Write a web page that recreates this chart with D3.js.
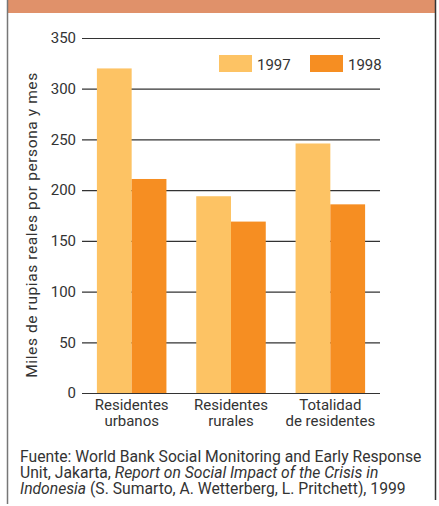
<!DOCTYPE html>
<html>
<head>
<meta charset="utf-8">
<script src="https://cdn.jsdelivr.net/npm/d3@7"></script>
<style>
  body { margin: 0; background: #fff; }
  text { font-family: Roboto, "DejaVu Sans", sans-serif; fill: #333; }
</style>
</head>
<body>
<script>
// data
var categories = [["Residentes", "urbanos"], ["Residentes", "rurales"], ["Totalidad", "de residentes"]];
var years = ["1997", "1998"];
var values1997 = [320, 194, 246];
var values1998 = [211, 169, 186];
var yTicks = [0, 50, 100, 150, 200, 250, 300, 350];

var width = 439, height = 506;
var colors = ["#fdc364", "#f68e22"];

var svg = d3.select("body").append("svg")
    .attr("width", width)
    .attr("height", height);

// frame + top band
svg.append("rect").attr("x", 7).attr("y", 0).attr("width", 429).attr("height", 13).attr("fill", "#e0916a");
svg.append("line").attr("x1", 7.5).attr("x2", 7.5).attr("y1", 0).attr("y2", 504).attr("stroke", "#777").attr("stroke-width", 1.5);
svg.append("line").attr("x1", 435.5).attr("x2", 435.5).attr("y1", 0).attr("y2", 500).attr("stroke", "#333").attr("stroke-width", 1.5);

var y = d3.scaleLinear().domain([0, 350]).range([393, 38]);
var x = d3.scaleBand().domain(d3.range(categories.length)).range([82, 380])
    .paddingInner(0.3).paddingOuter(0.15);
var xs = d3.scaleBand().domain(years).range([0, x.bandwidth()]);

// gridlines via axis
var yAxis = svg.append("g")
    .attr("transform", "translate(82,0)")
    .call(d3.axisLeft(y).tickValues(yTicks).tickSize(-298).tickSizeOuter(0).tickPadding(6));
yAxis.select(".domain").remove();
yAxis.selectAll(".tick line").attr("stroke", "#333").attr("stroke-width", 1.2);
yAxis.selectAll(".tick text").attr("font-size", 15).attr("fill", "#333").attr("font-family", "Roboto");

// bars
var series = [values1997, values1998];
years.forEach(function(yr, k) {
    svg.append("g").selectAll("rect")
        .data(series[k])
        .enter().append("rect")
        .attr("x", function(d, i) { return x(i) + xs(yr); })
        .attr("y", function(d) { return y(d); })
        .attr("width", xs.bandwidth())
        .attr("height", function(d) { return y(0) - y(d); })
        .attr("fill", colors[k]);
});

// category labels
var cat = svg.append("g").selectAll("text")
    .data(categories)
    .enter().append("text")
    .attr("text-anchor", "middle")
    .attr("font-size", 15)
    .attr("transform", function(d, i) { return "translate(" + (x(i) + x.bandwidth() / 2) + ",0)"; });
cat.append("tspan").attr("x", 0).attr("y", 410).text(function(d) { return d[0]; });
cat.append("tspan").attr("x", 0).attr("y", 426).text(function(d) { return d[1]; });

// y axis title
svg.append("text")
    .attr("transform", "translate(37,225) rotate(-90)")
    .attr("text-anchor", "middle")
    .attr("font-size", 15.5)
    .attr("letter-spacing", 0.6)
    .text("Miles de rupias reales por persona y mes");

// legend
var legX = [219, 310];
years.forEach(function(yr, k) {
    svg.append("rect").attr("x", legX[k]).attr("y", 55).attr("width", 33).attr("height", 17).attr("fill", colors[k]);
    svg.append("text").attr("x", legX[k] + 38).attr("y", 70).attr("font-size", 15).text(yr);
});

// source note
var note = svg.append("text").attr("font-size", 15.7);
note.append("tspan").attr("x", 20).attr("y", 462).text("Fuente: World Bank Social Monitoring and Early Response");
var l2 = note.append("tspan").attr("x", 20).attr("y", 478);
l2.append("tspan").text("Unit, Jakarta, ");
l2.append("tspan").attr("font-style", "italic").text("Report on Social Impact of the Crisis in");
var l3 = note.append("tspan").attr("x", 20).attr("y", 494);
l3.append("tspan").attr("font-style", "italic").text("Indonesia");
l3.append("tspan").text(" (S. Sumarto, A. Wetterberg, L. Pritchett), 1999");
</script>
</body>
</html>
